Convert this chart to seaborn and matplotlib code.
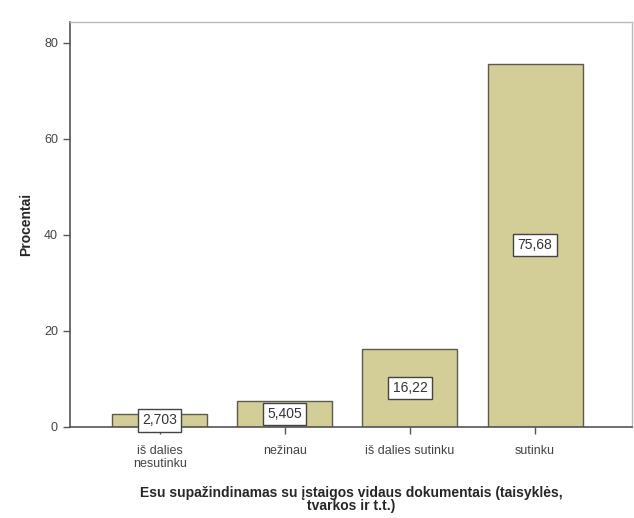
import numpy as np
import pandas as pd
import matplotlib
matplotlib.use("Agg")
import matplotlib.pyplot as plt
import seaborn as sns

categories = ["iš dalies\nnesutinku", "nežinau", "iš dalies sutinku", "sutinku"]
percent = [2.703, 5.405, 16.22, 75.68]
value_labels = ["2,703", "5,405", "16,22", "75,68"]

df = pd.DataFrame({"ans": categories, "pct": percent})

sns.set_style("white")
plt.rcParams["font.family"] = ["Liberation Sans", "DejaVu Sans"]

fig = plt.figure(figsize=(6.34, 5.18), dpi=100)
ax = fig.add_axes([0.110, 0.176, 0.887, 0.782])

sns.barplot(data=df, x="ans", y="pct", color="#d3ce97", saturation=1,
            width=0.76, edgecolor="#5a5a50", linewidth=1.0, ax=ax)

# value boxes in the middle of each bar
for i, (v, lab) in enumerate(zip(percent, value_labels)):
    ax.text(i, v / 2, lab, ha="center", va="center", fontsize=10, color="#333333",
            bbox=dict(boxstyle="square,pad=0.3", fc="white", ec="#444444", lw=1.0))

ax.set_xlim(-0.72, 3.776)
ax.set_ylim(0, 84.4)
ax.set_yticks([0, 20, 40, 60, 80])
ax.tick_params(axis="both", direction="out", length=5, width=1, color="#555555",
               labelsize=9, labelcolor="#444444", left=True, bottom=True)
ax.tick_params(axis="x", pad=8)
for t in ax.get_xticklabels():
    t.set_linespacing(1.15)

for s in ["left", "bottom"]:
    ax.spines[s].set_color("#555555")
    ax.spines[s].set_linewidth(1.2)
for s in ["top", "right"]:
    ax.spines[s].set_color("#bbbbbb")
    ax.spines[s].set_linewidth(1.0)

ax.set_ylabel("Procentai", fontsize=10, fontweight="bold", labelpad=8)
ax.set_xlabel("Esu supažindinamas su įstaigos vidaus dokumentais (taisyklės,\ntvarkos ir t.t.)",
              fontsize=10, fontweight="bold", labelpad=11, linespacing=0.95)

fig.savefig("out.png", dpi=100)
